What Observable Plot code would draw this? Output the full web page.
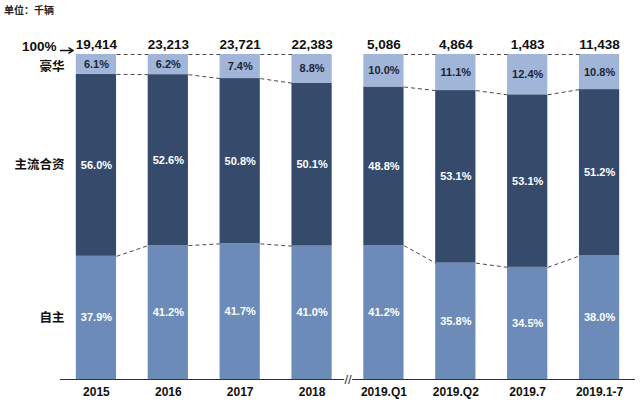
<!DOCTYPE html>
<html><head><meta charset="utf-8">
<script src="https://cdn.jsdelivr.net/npm/d3@7"></script>
<script src="https://cdn.jsdelivr.net/npm/@observablehq/plot@0.6"></script>
<style>
body{margin:0;background:#fff;}
#wrap{position:relative;width:640px;height:404px;}
#unit{position:absolute;left:4px;top:2px;font:bold 10px "Noto Sans CJK SC",sans-serif;color:#222;}
</style></head><body>
<div id="wrap"><div id="unit">单位：千辆</div></div>
<script>
const categories = ["2015","2016","2017","2018","2019.Q1","2019.Q2","2019.7","2019.1-7"];
const totals = [19414, 23213, 23721, 22383, 5086, 4864, 1483, 11438];
const domestic = [37.9, 41.2, 41.7, 41.0, 41.2, 35.8, 34.5, 38.0];
const mainstream = [56.0, 52.6, 50.8, 50.1, 48.8, 53.1, 53.1, 51.2];
const luxury = [6.1, 6.2, 7.4, 8.8, 10.0, 11.1, 12.4, 10.8];
const segmentNames = ["自主", "主流合资", "豪华"];
const colors = ["#6c8bb9", "#364b6c", "#a0b5d8"];
const breakAfter = 3;

const series = [domestic, mainstream, luxury];
const rows = [];
categories.forEach((c, i) => {
  const sum = series.reduce((s, a) => s + a[i], 0);
  let acc = 0;
  series.forEach((a, k) => {
    const y1 = acc / sum; acc += a[i]; const y2 = acc / sum;
    rows.push({i, cat: c, seg: segmentNames[k], k, value: a[i], y1, y2, mid: (y1 + y2) / 2});
  });
});
const half = 0.28;
const links = [];
for (let i = 0; i < categories.length - 1; i++) {
  if (i === breakAfter) continue;
  for (let k = 0; k < 3; k++) {
    const a = rows.find(r => r.i === i && r.k === k), b = rows.find(r => r.i === i + 1 && r.k === k);
    links.push({x1: i + half, x2: i + 1 - half, y1: a.y2, y2: b.y2});
  }
}
const font = '"Liberation Sans", Arial, "Noto Sans CJK SC", sans-serif';
const first = rows.filter(r => r.i === 0);
const chart = Plot.plot({
  width: 640, height: 404, marginTop: 54, marginBottom: 25, marginLeft: 60, marginRight: 5,
  x: {type: "linear", domain: [-0.5, categories.length - 0.5], axis: null},
  y: {domain: [0, 1], axis: null},
  color: {domain: segmentNames, range: colors},
  style: {fontFamily: font, background: "#fff", color: "#111"},
  marks: [
    Plot.rect(rows, {x1: d => d.i - half, x2: d => d.i + half, y1: "y1", y2: "y2", fill: "seg"}),
    Plot.link(links, {x1: "x1", x2: "x2", y1: "y1", y2: "y2", stroke: "#4a4a4a", strokeDasharray: "4,3", strokeWidth: 1}),
    Plot.text(rows.filter(r => r.k < 2), {x: "i", y: "mid", text: d => d.value.toFixed(1) + "%", fill: "#fff", fontSize: 11, fontWeight: "bold"}),
    Plot.text(rows.filter(r => r.k === 2), {x: "i", y: "mid", text: d => d.value.toFixed(1) + "%", fill: "#1d2535", fontSize: 11, fontWeight: "bold"}),
    Plot.text(categories, {x: (d, i) => i, y: 1, dy: -10, text: (d, i) => d3.format(",")(totals[i]), fontSize: 13.5, fontWeight: "bold", fill: "#111"}),
    Plot.text(first.filter(r => r.k < 2), {x: -0.5, y: "mid", dx: 4, text: "seg", textAnchor: "end", fontSize: 12.5, fontWeight: "bold", fill: "#111", fontFamily: '"Noto Sans CJK SC", sans-serif'}),
    Plot.text(first.filter(r => r.k === 2), {x: -0.5, y: "mid", dx: 4, dy: 3, text: "seg", textAnchor: "end", fontSize: 12.5, fontWeight: "bold", fill: "#111", fontFamily: '"Noto Sans CJK SC", sans-serif'}),
    Plot.text(["100%"], {x: -0.5, y: 1, dx: -4, dy: -8, text: d => d, textAnchor: "end", fontSize: 13.5, fontWeight: "bold", fill: "#111"}),
    Plot.arrow([{x1: -0.5, x2: -half, y: 1}], {x1: "x1", x2: "x2", y1: "y", y2: "y", dy: -4, stroke: "#111", strokeWidth: 1.3, headLength: 6, insetEnd: 3}),
    Plot.ruleY([0], {stroke: "#333", strokeWidth: 1.2}),
    Plot.text(["//"], {x: breakAfter + 0.5, y: 0, text: d => d, fontSize: 13, fill: "#333", stroke: "#fff", strokeWidth: 3}),
    Plot.axisX({ticks: d3.range(categories.length), tickFormat: i => categories[i], tickSize: 0, tickPadding: 8, fontSize: 12, fontWeight: "bold", fill: "#111"})
  ]
});
document.getElementById("wrap").appendChild(chart);
</script>
</body></html>
